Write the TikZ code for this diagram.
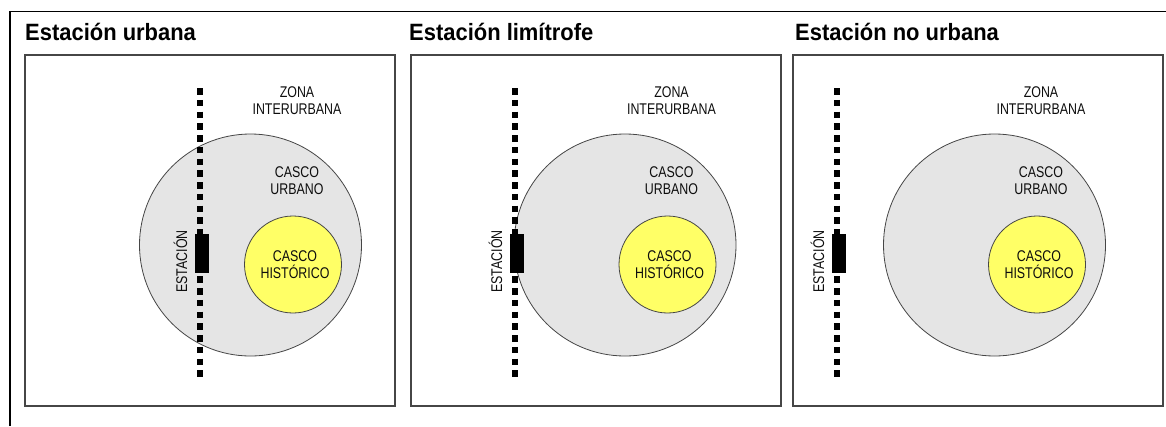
\documentclass[tikz,border=0pt]{standalone}
\usepackage{fontspec}
\setmainfont{Liberation Sans}
\newfontfamily\labfont[FakeStretch=0.8]{Liberation Sans}
\newfontfamily\ttlfont[FakeStretch=0.93]{Liberation Sans}
\definecolor{urbgray}{RGB}{229,229,229}
\definecolor{histyel}{RGB}{255,255,102}
\definecolor{edgegray}{RGB}{70,70,70}
\tikzset{
  panelbox/.style={draw=edgegray, line width=1.3pt},
  urbcircle/.style={circle, draw=edgegray, fill=urbgray, line width=0.8pt, inner sep=0pt, minimum size=222pt},
  histcircle/.style={circle, draw=edgegray, fill=histyel, line width=0.8pt, inner sep=0pt, minimum size=97pt},
  rail/.style={line width=5.5pt, dash pattern=on 6.5pt off 5.27pt, black},
  stationbox/.style={fill=black, draw=none},
  lab/.style={font=\labfont\fontsize{15.5}{17}\selectfont, text=black!95, inner sep=0pt, anchor=base},
  ttl/.style={font=\ttlfont\bfseries\fontsize{23.6}{26}\selectfont, inner sep=0pt, anchor=base west},
  frame/.style={line width=1.3pt, black}
}
\begin{document}
\begin{tikzpicture}[x=1pt,y=-1pt]
\useasboundingbox (0,0) rectangle (1166,426);
% outer frame
\coordinate (fbl) at (10,426);
\coordinate (ftl) at (10,11.5);
\coordinate (ftr) at (1166,11.5);
\draw[frame] (fbl) -- (ftl) -- (ftr);
% titles
\node[ttl] (t1) at (25,40) {Estación urbana};
\node[ttl] (t2) at (409,40) {Estación limítrofe};
\node[ttl] (t3) at (795,40) {Estación no urbana};
\foreach \L/\D/\C/\n in {25/200/250.5/a, 411/515/625/b, 793/837/994.5/c}{
  \draw[panelbox] (\L,55) rectangle ++(370,351);
  \node[urbcircle] (cu\n) at (\C,245) {};
  \node[histcircle] (ch\n) at (\C+42.5,264.5) {};
  \coordinate (rt\n) at (\D,88);
  \coordinate (rb\n) at (\D,377);
  \draw[rail] (rt\n) -- (rb\n);
  \node[stationbox, minimum width=14pt, minimum height=39pt, inner sep=0pt] (st\n) at (\D+2,253.5) {};
  \node[lab, rotate=90] (se\n) at (\D-13,261.5) {ESTACIÓN};
  \node[lab] (z1\n) at (\C+46.5,97) {ZONA};
  \node[lab] (z2\n) at (\C+46.5,114) {INTERURBANA};
  \node[lab] (u1\n) at (\C+46.5,177) {CASCO};
  \node[lab] (u2\n) at (\C+46.5,194) {URBANO};
  \node[lab] (h1\n) at (\C+44.5,261) {CASCO};
  \node[lab] (h2\n) at (\C+44.5,278) {HISTÓRICO};
}
\end{tikzpicture}
\end{document}
